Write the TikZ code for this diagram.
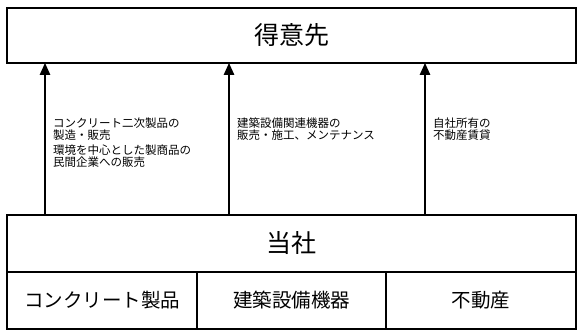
\documentclass[tikz,border=0pt]{standalone}
\usepackage{fontspec}
\setmainfont{Noto Sans CJK JP}
\usetikzlibrary{arrows.meta}
\begin{document}
\begin{tikzpicture}[x=1pt,y=-1pt,
  box/.style={draw,line width=1.2pt,inner sep=0pt,outer sep=0pt,minimum height=57pt},
  bigtext/.style={font=\fontsize{25}{30}\selectfont},
  subtext/.style={font=\fontsize{19.5}{23}\selectfont},
  lbl/.style={font=\fontsize{11.5}{11.8}\selectfont,align=left,inner sep=0pt,anchor=base west},
  arr/.style={line width=1.3pt,-{Triangle[width=10.5pt,length=12pt]}}]
\fill[white] (0,0) rectangle (583,336);
\useasboundingbox (0,0) rectangle (583,336);
\node[box,bigtext,minimum width=569pt,minimum height=55pt] (cust) at (291.5,35.5) {得意先};
\node[box,bigtext,minimum width=569pt] (co) at (291.5,243.5) {当社};
\node[box,subtext,minimum width=190pt] (p1) at (102,300.5) {コンクリート製品};
\node[box,subtext,minimum width=189pt] (p2) at (291.5,300.5) {建築設備機器};
\node[box,subtext,minimum width=190pt] (p3) at (481,300.5) {不動産};
\coordinate (a1) at (45,140);
\coordinate (a2) at (229,140);
\coordinate (a3) at (425,140);
\draw[arr] (co.north -| a1) -- (cust.south -| a1);
\draw[arr] (co.north -| a2) -- (cust.south -| a2);
\draw[arr] (co.north -| a3) -- (cust.south -| a3);
\node[lbl] (l1) at (53,139.5) {コンクリート二次製品の\\製造・販売};
\node[lbl] (l2) at (53,166.5) {環境を中心とした製商品の\\民間企業への販売};
\node[lbl] (l3) at (237,139.5) {建築設備関連機器の\\販売・施工、メンテナンス};
\node[lbl] (l4) at (433,139.5) {自社所有の\\不動産賃貸};
\end{tikzpicture}
\end{document}
